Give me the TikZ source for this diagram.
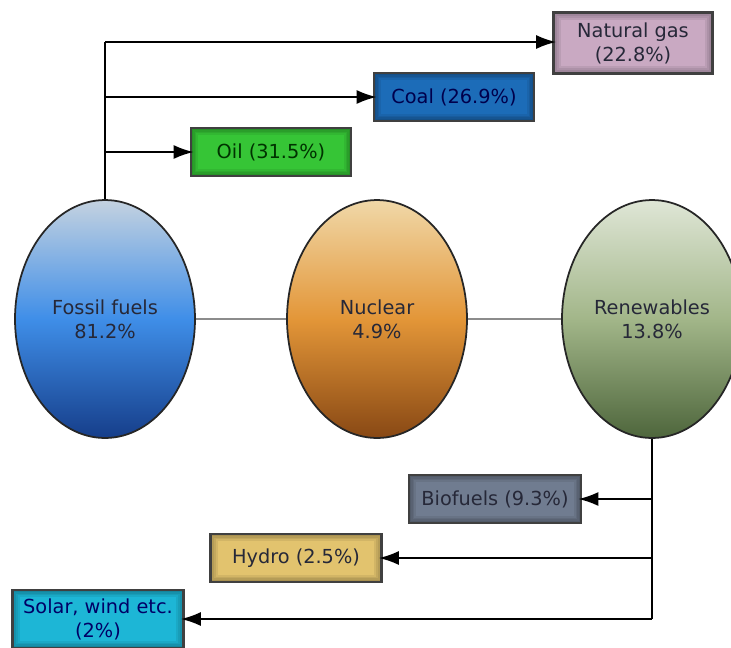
\documentclass[tikz,border=0pt]{standalone}
\usepackage{fontspec}
\setmainfont{DejaVu Sans}
\usetikzlibrary{shapes.geometric,arrows.meta,positioning,calc}

\definecolor{gasfill}{HTML}{C9A9C2}
\definecolor{coalfill}{HTML}{1C6CB8}
\definecolor{oilfill}{HTML}{36C536}
\definecolor{biofill}{HTML}{707C90}
\definecolor{hydrofill}{HTML}{E2C36E}
\definecolor{solarfill}{HTML}{1DB6D6}
\definecolor{boxtext}{HTML}{262838}
\definecolor{fostop}{HTML}{C4D2E0}
\definecolor{fosmid}{HTML}{3F8EE8}
\definecolor{fosbot}{HTML}{163E8A}
\definecolor{nuctop}{HTML}{F0D8A8}
\definecolor{nucmid}{HTML}{E39638}
\definecolor{nucbot}{HTML}{884814}
\definecolor{rentop}{HTML}{DFE6D6}
\definecolor{renmid}{HTML}{A2B689}
\definecolor{renbot}{HTML}{4E663C}

\begin{document}
\begin{tikzpicture}[x=0.02cm, y=-0.02cm, >={Latex[length=4mm,width=2.8mm]}, line width=1.1pt,
  font=\fontsize{11}{13.6}\selectfont]
\tikzstyle{source}=[ellipse, draw=black!85, line width=1pt, inner sep=0pt,
  minimum width=3.6cm, minimum height=4.76cm, align=center, text=boxtext]
\tikzstyle{share}=[rectangle, draw=black!75, line width=1.4pt, inner sep=2pt, outer sep=0pt,
  minimum height=0.96cm, minimum width=3.2cm, align=center, text=boxtext,
  path picture={
    \foreach \w in {2,4,6,8}
      \draw[line width=\w pt, black, opacity=0.07]
        (path picture bounding box.south west) rectangle (path picture bounding box.north east);}]
\tikzstyle{link}=[draw=black!45, line width=1.4pt]
\useasboundingbox (0,0) rectangle (731,647);
% the three sources
\node[source, top color=fostop, bottom color=fosbot, middle color=fosmid] (fossil) at (105,319) {Fossil fuels\\81.2\%};
\node[source, top color=nuctop, bottom color=nucbot, middle color=nucmid] (nuclear) at (377,319) {Nuclear\\4.9\%};
\node[source, top color=rentop, bottom color=renbot, middle color=renmid] (renew) at (652,319) {Renewables\\13.8\%};
% fossil shares
\node[share, fill=gasfill, minimum width=3.18cm, minimum height=1.22cm] (gas) at (633,43) {Natural gas\\(22.8\%)};
\node[share, fill=coalfill, text=blue!30!black] (coal) at (454,97) {Coal (26.9\%)};
\node[share, fill=oilfill, text=green!20!black] (oil) at (271,152) {Oil (31.5\%)};
% renewable shares
\node[share, fill=biofill, minimum width=3.44cm] (bio) at (495,499) {Biofuels (9.3\%)};
\node[share, fill=hydrofill, minimum width=3.42cm] (hydro) at (296,558) {Hydro (2.5\%)};
\node[share, fill=solarfill, minimum width=3.42cm, minimum height=1.16cm, text=blue!40!black] (solar) at (98,619) {Solar, wind etc.\\(2\%)};
\path[link]
(fossil) -- (nuclear)
(nuclear) -- (renew);
\draw (fossil.north) -- ($(fossil.north |- gas.west)+(0,-1)$);
\draw[->, shorten >=-1.5pt] ($(fossil.north |- gas.west)+(0,-1)$) -- ($(gas.west)+(0,-1)$);
\draw[->, shorten >=-1.5pt] (fossil.north |- coal.west) -- (coal.west);
\draw[->, shorten >=-1.5pt] (fossil.north |- oil.west) -- (oil.west);
\draw (renew.south) -- (renew.south |- solar.east);
\draw[->, shorten >=-1.5pt] (renew.south |- bio.east) -- (bio.east);
\draw[->, shorten >=-1.5pt] (renew.south |- hydro.east) -- (hydro.east);
\draw[->, shorten >=-1.5pt] (renew.south |- solar.east) -- (solar.east);
\end{tikzpicture}
\end{document}
